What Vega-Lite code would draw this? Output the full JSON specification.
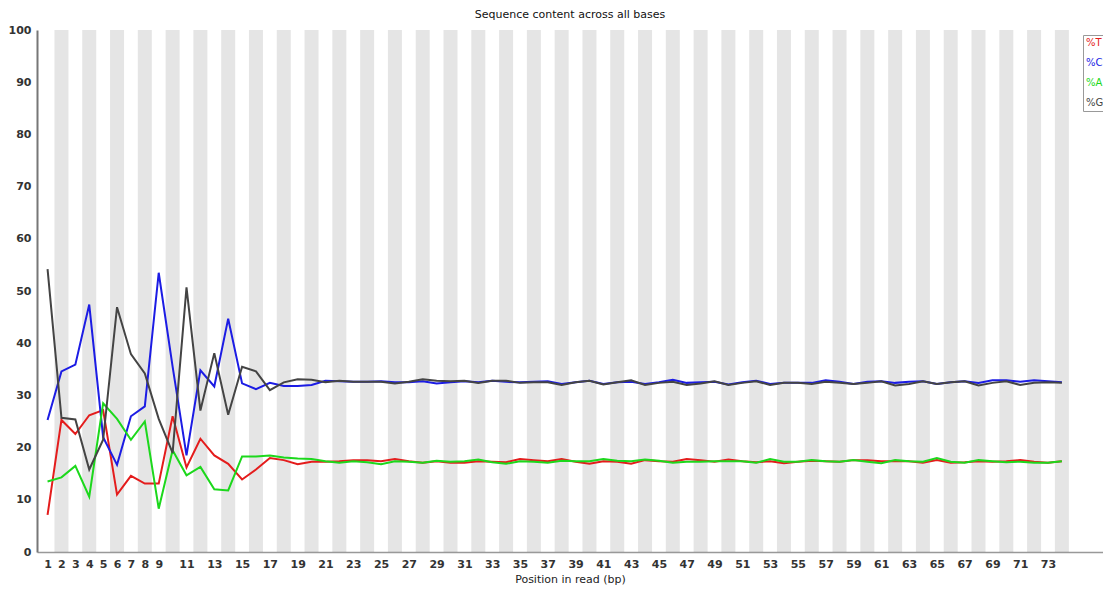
{
  "$schema": "https://vega.github.io/schema/vega-lite/v6.json",
  "autosize": {"type": "none"},
  "padding": {"left": 37, "top": 30, "right": 0, "bottom": 37},
  "width": 1066,
  "height": 522,
  "background": "white",
  "title": {"text": "Sequence content across all bases", "fontSize": 11, "fontWeight": "normal", "font": "DejaVu Sans", "color": "#111111", "offset": 4, "anchor": "middle"},
  "config": {"view": {"stroke": null}, "font": "DejaVu Sans"},
  "data": {"values": [
    {"pos":1,"T":7.1,"C":25.3,"A":13.5,"G":54.2},
    {"pos":2,"T":25.3,"C":34.6,"A":14.3,"G":25.7},
    {"pos":3,"T":22.6,"C":35.9,"A":16.5,"G":25.4},
    {"pos":4,"T":26.2,"C":47.4,"A":10.6,"G":15.8},
    {"pos":5,"T":27.2,"C":22.0,"A":28.5,"G":21.5},
    {"pos":6,"T":11.0,"C":16.7,"A":25.5,"G":46.9},
    {"pos":7,"T":14.6,"C":26.0,"A":21.5,"G":37.9},
    {"pos":8,"T":13.1,"C":27.9,"A":25.0,"G":34.2},
    {"pos":9,"T":13.1,"C":53.5,"A":8.3,"G":25.5},
    {"pos":10,"T":26.0,"C":35.5,"A":19.5,"G":19.0},
    {"pos":11,"T":16.2,"C":18.5,"A":14.7,"G":50.7},
    {"pos":12,"T":21.7,"C":34.8,"A":16.3,"G":27.1},
    {"pos":13,"T":18.5,"C":31.7,"A":12.0,"G":38.1},
    {"pos":14,"T":16.9,"C":44.7,"A":11.8,"G":26.3},
    {"pos":15,"T":13.9,"C":32.3,"A":18.3,"G":35.5},
    {"pos":16,"T":15.8,"C":31.2,"A":18.3,"G":34.6},
    {"pos":17,"T":18.0,"C":32.4,"A":18.5,"G":31.0},
    {"pos":18,"T":17.6,"C":31.8,"A":18.1,"G":32.5},
    {"pos":19,"T":16.8,"C":31.8,"A":17.9,"G":33.1},
    {"pos":20,"T":17.3,"C":32.0,"A":17.8,"G":33.0},
    {"pos":21,"T":17.3,"C":32.8,"A":17.4,"G":32.5},
    {"pos":22,"T":17.4,"C":32.7,"A":17.1,"G":32.8},
    {"pos":23,"T":17.6,"C":32.6,"A":17.4,"G":32.6},
    {"pos":24,"T":17.6,"C":32.6,"A":17.2,"G":32.6},
    {"pos":25,"T":17.4,"C":32.7,"A":16.8,"G":32.6},
    {"pos":26,"T":17.8,"C":32.5,"A":17.4,"G":32.3},
    {"pos":27,"T":17.4,"C":32.5,"A":17.3,"G":32.6},
    {"pos":28,"T":17.1,"C":32.7,"A":17.1,"G":33.1},
    {"pos":29,"T":17.4,"C":32.3,"A":17.5,"G":32.8},
    {"pos":30,"T":17.1,"C":32.5,"A":17.3,"G":32.7},
    {"pos":31,"T":17.1,"C":32.7,"A":17.4,"G":32.8},
    {"pos":32,"T":17.4,"C":32.5,"A":17.7,"G":32.4},
    {"pos":33,"T":17.3,"C":32.8,"A":17.2,"G":32.8},
    {"pos":34,"T":17.2,"C":32.6,"A":16.9,"G":32.8},
    {"pos":35,"T":17.8,"C":32.5,"A":17.4,"G":32.4},
    {"pos":36,"T":17.6,"C":32.6,"A":17.3,"G":32.5},
    {"pos":37,"T":17.4,"C":32.7,"A":17.1,"G":32.5},
    {"pos":38,"T":17.8,"C":32.2,"A":17.5,"G":32.0},
    {"pos":39,"T":17.3,"C":32.5,"A":17.4,"G":32.5},
    {"pos":40,"T":16.9,"C":32.8,"A":17.4,"G":32.8},
    {"pos":41,"T":17.4,"C":32.2,"A":17.8,"G":32.1},
    {"pos":42,"T":17.3,"C":32.5,"A":17.5,"G":32.5},
    {"pos":43,"T":16.9,"C":32.6,"A":17.4,"G":32.9},
    {"pos":44,"T":17.6,"C":32.2,"A":17.7,"G":32.0},
    {"pos":45,"T":17.4,"C":32.5,"A":17.5,"G":32.4},
    {"pos":46,"T":17.3,"C":33.0,"A":17.1,"G":32.6},
    {"pos":47,"T":17.8,"C":32.4,"A":17.3,"G":32.0},
    {"pos":48,"T":17.6,"C":32.5,"A":17.3,"G":32.3},
    {"pos":49,"T":17.3,"C":32.6,"A":17.4,"G":32.7},
    {"pos":50,"T":17.7,"C":32.1,"A":17.4,"G":32.0},
    {"pos":51,"T":17.4,"C":32.5,"A":17.4,"G":32.4},
    {"pos":52,"T":17.2,"C":32.8,"A":17.1,"G":32.7},
    {"pos":53,"T":17.4,"C":32.2,"A":17.8,"G":32.0},
    {"pos":54,"T":17.0,"C":32.4,"A":17.3,"G":32.4},
    {"pos":55,"T":17.3,"C":32.4,"A":17.3,"G":32.4},
    {"pos":56,"T":17.5,"C":32.4,"A":17.6,"G":32.2},
    {"pos":57,"T":17.4,"C":32.9,"A":17.4,"G":32.6},
    {"pos":58,"T":17.3,"C":32.6,"A":17.3,"G":32.4},
    {"pos":59,"T":17.6,"C":32.2,"A":17.6,"G":32.2},
    {"pos":60,"T":17.6,"C":32.6,"A":17.3,"G":32.4},
    {"pos":61,"T":17.4,"C":32.7,"A":17.0,"G":32.7},
    {"pos":62,"T":17.4,"C":32.4,"A":17.6,"G":31.9},
    {"pos":63,"T":17.4,"C":32.6,"A":17.4,"G":32.2},
    {"pos":64,"T":17.1,"C":32.7,"A":17.3,"G":32.7},
    {"pos":65,"T":17.6,"C":32.2,"A":18.0,"G":32.2},
    {"pos":66,"T":17.1,"C":32.5,"A":17.3,"G":32.5},
    {"pos":67,"T":17.2,"C":32.7,"A":17.1,"G":32.7},
    {"pos":68,"T":17.4,"C":32.4,"A":17.6,"G":31.9},
    {"pos":69,"T":17.3,"C":32.9,"A":17.4,"G":32.4},
    {"pos":70,"T":17.4,"C":32.9,"A":17.2,"G":32.7},
    {"pos":71,"T":17.6,"C":32.6,"A":17.3,"G":32.0},
    {"pos":72,"T":17.3,"C":32.9,"A":17.1,"G":32.4},
    {"pos":73,"T":17.1,"C":32.7,"A":17.1,"G":32.5},
    {"pos":74,"T":17.4,"C":32.5,"A":17.4,"G":32.4}
  ]},
  "encoding": {
    "x": {
      "field": "pos", "type": "quantitative",
      "scale": {"domain": [0.6, 76.6], "nice": false, "zero": false},
      "axis": {
        "values": [1,2,3,4,5,6,7,8,9,11,13,15,17,19,21,23,25,27,29,31,33,35,37,39,41,43,45,47,49,51,53,55,57,59,61,63,65,67,69,71,73],
        "title": "Position in read (bp)", "titleFontSize": 11, "titleFontWeight": "normal", "titleColor": "#222222", "titlePadding": 4,
        "labelFontSize": 11, "labelColor": "#333333", "labelPadding": 6, "labelFontWeight": "bold",
        "ticks": false, "grid": false, "domainColor": "#999999", "domainWidth": 1.5, "labelOverlap": false
      }
    }
  },
  "layer": [
    {
      "transform": [{"filter": "datum.pos % 2 == 0"}],
      "mark": {"type": "bar", "width": 14.03, "color": "#000000", "opacity": 0.1},
      "encoding": {
        "y": {"datum": 0, "type": "quantitative", "scale": {"domain": [0, 100], "nice": false},
          "axis": {"values": [0,10,20,30,40,50,60,70,80,90,100], "title": null, "ticks": false, "labelFontSize": 11, "labelFontWeight": "bold", "labelColor": "#333333", "labelPadding": 6, "gridColor": "#c4c4c4", "gridWidth": 1.3, "domainColor": "#777777", "domainWidth": 2}},
        "y2": {"datum": 100}
      }
    },
    {
      "transform": [{"fold": ["T", "C", "A", "G"], "as": ["base", "value"]}],
      "mark": {"type": "line", "strokeWidth": 2},
      "encoding": {
        "y": {"field": "value", "type": "quantitative", "scale": {"domain": [0, 100], "nice": false},
          "axis": {"values": [0,10,20,30,40,50,60,70,80,90,100], "title": null, "ticks": false, "labelFontSize": 11, "labelFontWeight": "bold", "labelColor": "#333333", "labelPadding": 6, "gridColor": "#c4c4c4", "gridWidth": 1.3, "domainColor": "#777777", "domainWidth": 2}},
        "color": {
          "field": "base", "type": "nominal",
          "scale": {"domain": ["T", "C", "A", "G"], "range": ["#e41c1c", "#1c1ce4", "#1cd81c", "#444444"]},
          "legend": {
            "orient": "none", "legendX": 1046, "legendY": 5, "title": null,
            "symbolType": "circle", "symbolSize": 1, "symbolStrokeWidth": 0, "labelOffset": -10,
            "labelFontSize": 10, "labelExpr": "'%' + datum.label",
            "padding": 3, "rowPadding": 10, "fillColor": "white", "strokeColor": "#999999",
            "encode": {
              "symbols": {"update": {"opacity": {"value": 0}}},
              "labels": {"update": {"fill": {"scale": "color", "field": "value"}}}
            }
          }
        }
      }
    }
  ]
}
